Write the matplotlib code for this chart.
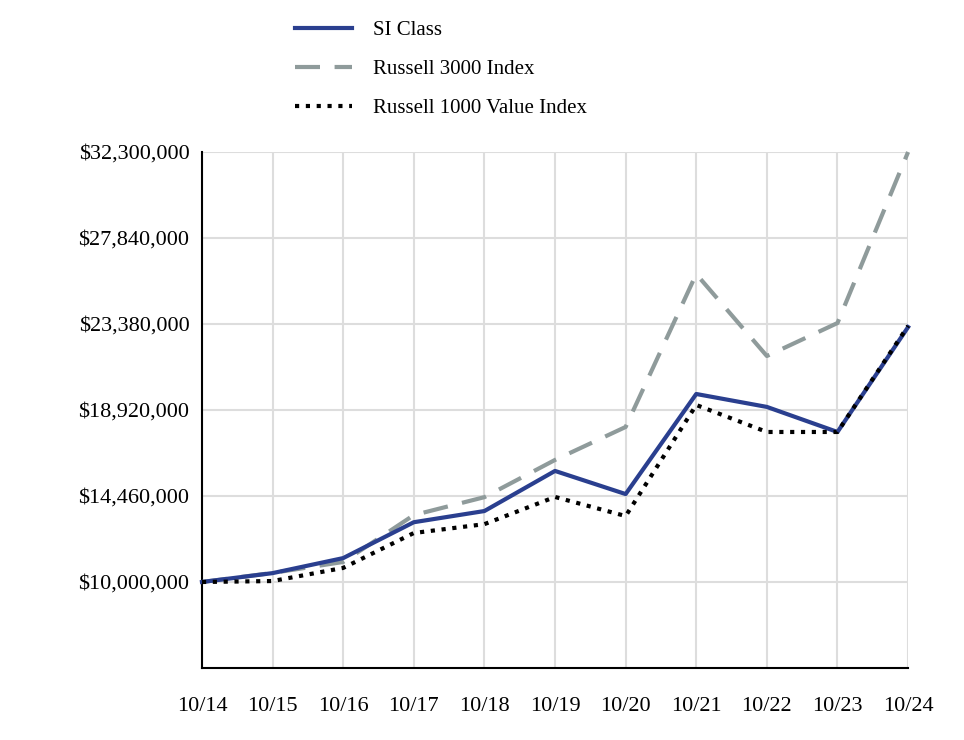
import matplotlib.pyplot as plt
from matplotlib.ticker import FuncFormatter

# Growth of $10,000,000 investment
years = ["10/14", "10/15", "10/16", "10/17", "10/18", "10/19",
         "10/20", "10/21", "10/22", "10/23", "10/24"]
si_class = [10000000, 10460000, 11240000, 13100000, 13680000, 15760000,
            14560000, 19750000, 19080000, 17780000, 23220000]
russell_3000 = [10000000, 10470000, 11040000, 13470000, 14400000, 16330000,
                18040000, 25970000, 21720000, 23430000, 32300000]
russell_1000_value = [10000000, 10050000, 10730000, 12540000, 13000000, 14410000,
                      13420000, 19180000, 17780000, 17780000, 23280000]
y_ticks = [10000000, 14460000, 18920000, 23380000, 27840000, 32300000]

plt.rcParams['font.family'] = ['Liberation Serif', 'DejaVu Serif']

fig = plt.figure(figsize=(9.64, 7.4), dpi=100)
ax = fig.add_axes([0.2095, 0.0973, 0.7325, 0.6973])

x = list(range(len(years)))
l1, = ax.plot(x, si_class, color='#2a3f8f', linewidth=3, label='SI Class',
              clip_on=False, zorder=4)
l2, = ax.plot(x, russell_3000, color='#8f9b9b', linewidth=3,
              linestyle=(0, (6, 3.5)), label='Russell 3000 Index',
              clip_on=False, zorder=3)
l3, = ax.plot(x, russell_1000_value, color='black', linewidth=3,
              linestyle=(0, (1, 1.6)), label='Russell 1000 Value Index',
              clip_on=False, zorder=5)

ax.set_xlim(0, len(years) - 1)
ax.set_ylim(10000000 - 4460000, 32300000)
ax.set_xticks(x)
ax.set_xticklabels(years)
ax.set_yticks(y_ticks)
ax.yaxis.set_major_formatter(FuncFormatter(lambda v, p: f"${v:,.0f}"))
ax.tick_params(length=0, labelsize=16)
ax.tick_params(axis='x', pad=21)
ax.tick_params(axis='y', pad=9)

ax.grid(True, color='#dddddd', linewidth=1.5)
ax.set_axisbelow(True)
for s in ['top', 'right']:
    ax.spines[s].set_visible(False)
for s in ['left', 'bottom']:
    ax.spines[s].set_color('black')
    ax.spines[s].set_linewidth(1.5)

fig.legend(handles=[l1, l2, l3], loc='upper left',
           bbox_to_anchor=(0.306, 0.972), frameon=False, fontsize=15,
           handlelength=2.75, labelspacing=0.93, handletextpad=1.0,
           borderpad=0, borderaxespad=0)

fig.savefig('out.png', dpi=100)
